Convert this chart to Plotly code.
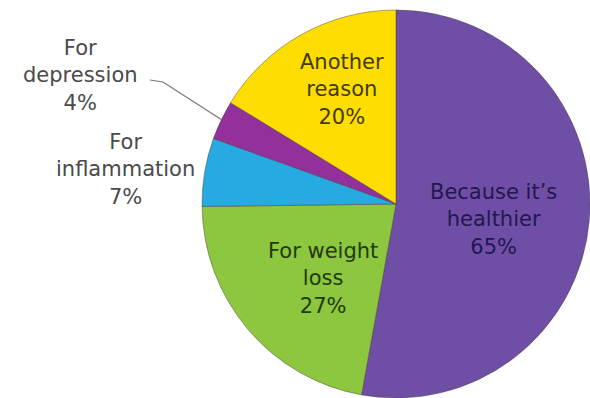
import plotly.graph_objects as go

labels = ["Because it's healthier", "For weight loss", "For inflammation", "For depression", "Another reason"]
label_lines = ["Because it’s<br>healthier", "For weight<br>loss", "For<br>inflammation", "For<br>depression", "Another<br>reason"]
values = [65, 27, 7, 4, 20]
colors = ["#6F4FA6", "#8DC63F", "#27A9E1", "#93309B", "#FFDD00"]
text_colors = ["#241650", "#1F3A0E", "#4A4A4A", "#4A4A4A", "#423B00"]
# label anchor positions in pixels (x, y) within 590x398 canvas
label_pos = [(493, 220), (323, 278), (125, 170), (80, 76), (342, 89)]

W, H = 590, 398

fig = go.Figure(go.Pie(
    labels=labels,
    values=values,
    sort=False,
    direction="clockwise",
    rotation=0,
    textinfo="none",
    hoverinfo="label+value",
    marker=dict(colors=colors, line=dict(color="rgba(70,60,60,0.45)", width=1)),
    domain=dict(x=[202 / W, 1.0], y=[0.0, 1 - 10 / H]),
    showlegend=False,
))

annotations = []
for lab, v, tc, (px, py) in zip(label_lines, values, text_colors, label_pos):
    annotations.append(dict(
        x=px / W, y=1 - py / H, xref="paper", yref="paper",
        text=f"{lab}<br>{v}%", showarrow=False,
        xanchor="center", yanchor="middle", align="center",
        font=dict(family="DejaVu Sans", size=21, color=tc),
    ))

fig.update_layout(
    width=W, height=H,
    margin=dict(l=0, r=0, t=0, b=0),
    paper_bgcolor="white",
    plot_bgcolor="white",
    annotations=annotations,
    shapes=[dict(
        type="path", xref="paper", yref="paper",
        path=f"M {150 / W},{1 - 80 / H} L {163 / W},{1 - 82 / H} L {222 / W},{1 - 120 / H}",
        line=dict(color="#777777", width=1.2),
    )],
)

fig.write_html("out.html")
